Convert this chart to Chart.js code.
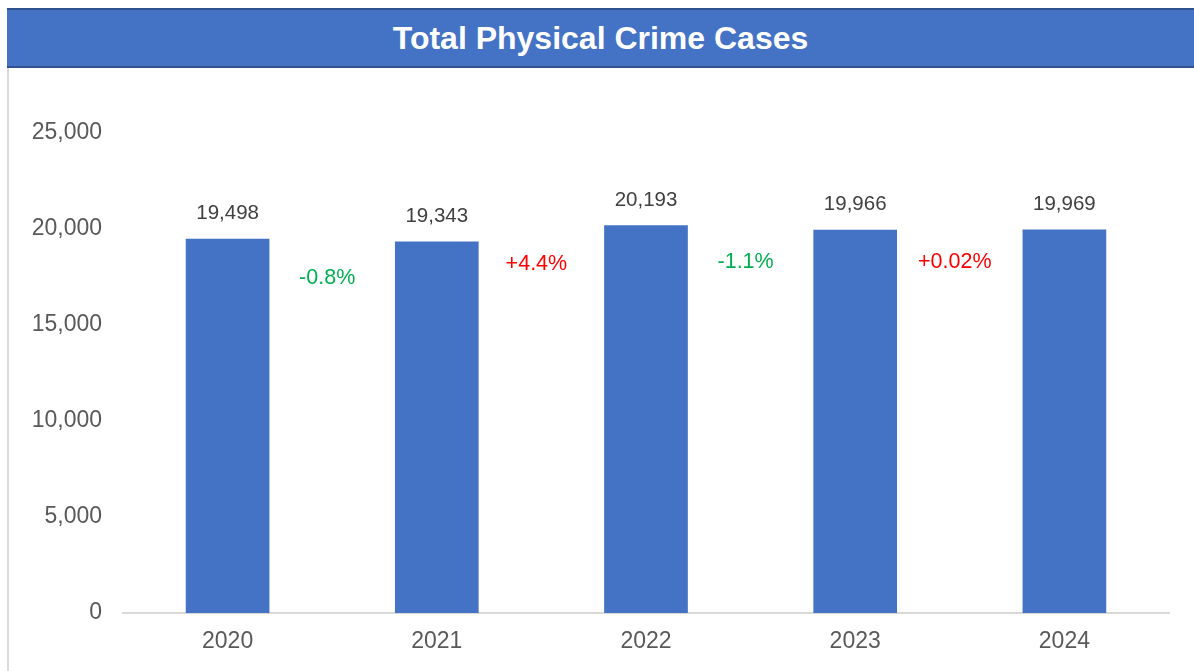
<!DOCTYPE html>
<html>
<head>
<meta charset="utf-8">
<script src="https://cdn.jsdelivr.net/npm/chart.js@4/dist/chart.umd.min.js"></script>
<style>
  html, body { margin: 0; padding: 0; background: #fff; }
  body { width: 1194px; height: 671px; position: relative; overflow: hidden; font-family: "Liberation Sans", Arial, sans-serif; }
  #frame { position: absolute; left: 7px; top: 66px; width: 2px; height: 605px; background: #d9d9d9; }
  #banner {
    position: absolute; left: 7px; top: 8px; width: 1187px; height: 56px;
    background: #4472C4; border-top: 2px solid #2F528F; border-bottom: 2px solid #2F528F;
    color: #fff; font-weight: bold; font-size: 32px; line-height: 57px; text-align: center;
  }
  #wrap { position: absolute; left: 9px; top: 68px; width: 1185px; height: 603px; }
</style>
</head>
<body>
<div id="frame"></div>
<div id="banner">Total Physical Crime Cases</div>
<div id="wrap"><canvas id="chart"></canvas></div>
<script>
// Chart data
const years = ['2020', '2021', '2022', '2023', '2024'];
const cases = [19498, 19343, 20193, 19966, 19969];
const changeLabels = ['-0.8%', '+4.4%', '-1.1%', '+0.02%'];
const changeLevels = [17450, 18180, 18280, 18280];
const yTicks = [0, 5000, 10000, 15000, 20000, 25000];

const fmt = v => v.toLocaleString('en-US');
const FONT = '"Liberation Sans", Arial, sans-serif';

// Value labels above bars + change labels between bars
const labelsPlugin = {
  id: 'labels',
  afterDatasetsDraw(chart) {
    const ctx = chart.ctx;
    const meta = chart.getDatasetMeta(0);
    const x = chart.scales.x;
    const y = chart.scales.y;
    ctx.save();
    ctx.textAlign = 'center';
    ctx.textBaseline = 'middle';
    ctx.font = '20.5px ' + FONT;
    ctx.fillStyle = '#404040';
    meta.data.forEach((bar, i) => {
      ctx.fillText(fmt(cases[i]), bar.x, bar.y - 25);
    });
    ctx.font = '21.5px ' + FONT;
    changeLabels.forEach((txt, i) => {
      const px = (x.getPixelForValue(i) + x.getPixelForValue(i + 1)) / 2;
      const py = y.getPixelForValue(changeLevels[i]);
      ctx.fillStyle = txt.startsWith('-') ? '#00B050' : '#FF0000';
      ctx.fillText(txt, px - 5, py);
    });
    ctx.restore();
  }
};

new Chart(document.getElementById('chart'), {
  type: 'bar',
  data: {
    labels: years,
    datasets: [{
      data: cases,
      backgroundColor: '#4472C4',
      barPercentage: 0.4,
      categoryPercentage: 1
    }]
  },
  options: {
    responsive: true,
    maintainAspectRatio: false,
    animation: false,
    layout: { padding: { top: 65, right: 25, left: 0, bottom: 0 } },
    plugins: { legend: { display: false }, tooltip: { enabled: false } },
    scales: {
      x: {
        grid: { display: false, drawTicks: false },
        border: { color: '#d9d9d9', width: 2 },
        ticks: { color: '#595959', font: { size: 23, family: FONT }, padding: 15 },
        afterFit: s => { s.height = 58; }
      },
      y: {
        min: 0,
        max: 25000,
        afterBuildTicks: s => { s.ticks = yTicks.map(v => ({ value: v })); },
        grid: { display: false, drawTicks: false },
        border: { display: false },
        ticks: {
          color: '#595959',
          font: { size: 23, family: FONT },
          padding: 21,
          callback: v => fmt(v)
        },
        afterFit: s => { s.width = 114; }
      }
    }
  },
  plugins: [labelsPlugin]
});
</script>
</body>
</html>
